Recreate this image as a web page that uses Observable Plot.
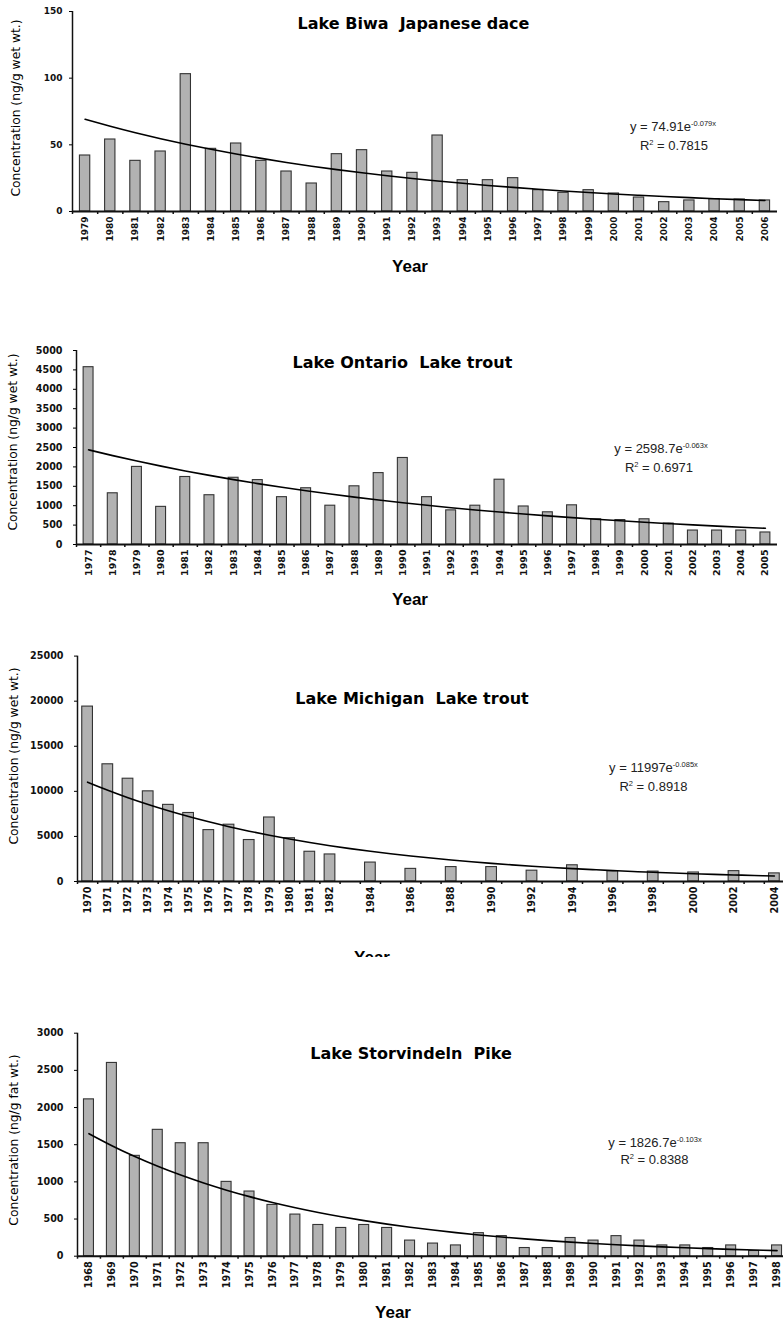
<!DOCTYPE html>
<html>
<head>
<meta charset="utf-8">
<script src="https://cdn.jsdelivr.net/npm/d3@7"></script>
<script src="https://cdn.jsdelivr.net/npm/@observablehq/plot@0.6"></script>
<style>
  body { margin: 0; background: #fff; }
  #page { position: relative; width: 783px; height: 1324px; overflow: hidden; background: #fff; }
  .panel { position: absolute; left: 0; width: 783px; overflow: hidden; }
  .t { position: absolute; transform: translate(-50%, -50%); white-space: pre; line-height: 1; color: #000; }
  .title { font-family: "DejaVu Sans", sans-serif; font-weight: bold; font-size: 16px; }
  .eq { font-family: "Liberation Sans", Arial, sans-serif; font-size: 13px; color: #222; }
  .eq .sup { font-size: 7.5px; position: relative; top: -5px; }
  .ylab { font-family: "DejaVu Sans", sans-serif; font-size: 12.3px; transform: translate(-50%, -50%) rotate(-90deg); }
  .xlab { font-family: "Liberation Sans", Arial, sans-serif; font-weight: bold; font-size: 17px; }
</style>
</head>
<body>
<div id="page"></div>
<script>
// ---------------- DATA ----------------
const biwaYears = [1979,1980,1981,1982,1983,1984,1985,1986,1987,1988,1989,1990,1991,1992,1993,1994,1995,1996,1997,1998,1999,2000,2001,2002,2003,2004,2005,2006];
const biwaValues = [42,54,38,45,103,47,51,38,30,21,43,46,30,29,57,23.5,23.5,25,16,14,16,13.5,10.5,7,8.3,9.3,9,8.3];
const biwaFit = [74.91, -0.079];
const biwaTicks = [0,50,100,150];

const ontarioYears = [1977,1978,1979,1980,1981,1982,1983,1984,1985,1986,1987,1988,1989,1990,1991,1992,1993,1994,1995,1996,1997,1998,1999,2000,2001,2002,2003,2004,2005];
const ontarioValues = [4570,1320,2000,970,1740,1270,1720,1660,1220,1450,1000,1500,1840,2230,1220,880,1000,1670,980,830,1010,650,630,650,540,360,360,360,310];
const ontarioFit = [2598.7, -0.063];
const ontarioTicks = [0,500,1000,1500,2000,2500,3000,3500,4000,4500,5000];

const michiganAxisYears = [1970,1971,1972,1973,1974,1975,1976,1977,1978,1979,1980,1981,1982,1983,1984,1985,1986,1987,1988,1989,1990,1991,1992,1993,1994,1995,1996,1997,1998,1999,2000,2001,2002,2003,2004];
const michiganYears = [1970,1971,1972,1973,1974,1975,1976,1977,1978,1979,1980,1981,1982,1984,1986,1988,1990,1992,1994,1996,1998,2000,2002,2004];
const michiganValues = [19400,13000,11400,10000,8500,7600,5700,6300,4600,7100,4800,3300,3000,2100,1400,1600,1600,1200,1800,1150,1100,1000,1150,900];
const michiganFit = [11997, -0.085];
const michiganTicks = [0,5000,10000,15000,20000,25000];

const storYears = [1968,1969,1970,1971,1972,1973,1974,1975,1976,1977,1978,1979,1980,1981,1982,1983,1984,1985,1986,1987,1988,1989,1990,1991,1992,1993,1994,1995,1996,1997,1998];
const storValues = [2110,2600,1350,1700,1520,1520,1000,870,690,560,420,380,420,380,210,170,145,310,270,110,110,245,210,270,210,145,145,110,145,70,145];
const storFit = [1826.7, -0.103];
const storTicks = [0,500,1000,1500,2000,2500,3000];

// ---------------- DRAW ----------------
const page = document.getElementById("page");
const plain = d => String(d);

function addText(cls, html, x, y, parent) {
  const d = document.createElement("div");
  d.className = "t " + cls;
  d.style.left = x + "px";
  d.style.top = y + "px";
  d.innerHTML = html;
  (parent || page).appendChild(d);
  return d;
}

function panel(cfg) {
  const axisYears = cfg.axisYears || cfg.years;
  const step = (cfg.xRange[1] - cfg.xRange[0]) / axisYears.length;
  const bars = cfg.years.map((y, i) => ({year: y, value: cfg.values[i]}));
  const trend = axisYears.map((y, i) => ({year: y, value: cfg.fit[0] * Math.exp(cfg.fit[1] * (i + 1))}));
  const ymax = cfg.ticks[cfg.ticks.length - 1];
  const chart = Plot.plot({
    width: 783,
    height: cfg.height,
    marginLeft: cfg.xRange[0],
    marginRight: 783 - cfg.xRange[1],
    marginTop: cfg.yRange[1],
    marginBottom: cfg.height - cfg.yRange[0],
    style: {background: "transparent", fontFamily: "DejaVu Sans, sans-serif"},
    x: {type: "band", domain: axisYears, range: cfg.xRange, paddingInner: cfg.pad, paddingOuter: cfg.pad / 2, align: 0.5, round: false},
    y: {domain: [0, ymax], range: cfg.yRange},
    marks: [
      Plot.barY(bars, {x: "year", y: "value", fill: "#b2b2b2", stroke: "#333", strokeWidth: 1.1}),
      Plot.line(trend, {x: "year", y: "value", stroke: "#000", strokeWidth: 1.6, curve: "natural"}),
      Plot.ruleY([0], {stroke: "#111", strokeWidth: 2}),
      Plot.ruleX([axisYears[0]], {y1: 0, y2: ymax, dx: -step / 2, stroke: "#111", strokeWidth: 1.5}),
      Plot.axisY({ticks: cfg.ticks, tickFormat: plain, tickSize: 3, tickPadding: cfg.yPad, label: null, fontWeight: "bold", fontSize: cfg.yFont, fontFamily: "DejaVu Sans, sans-serif", fill: "#111"}),
      Plot.axisX({ticks: cfg.years, tickFormat: plain, tickSize: 0, tickPadding: 5, tickRotate: -90, label: null, fontWeight: "bold", fontSize: cfg.xFont, fontFamily: "DejaVu Sans, sans-serif", fill: "#111"}),
      Plot.axisX({ticks: axisYears, tickSize: 3, tickFormat: () => "", label: null, dx: -step / 2, stroke: "#111", strokeWidth: 1.5})
    ]
  });
  const wrap = document.createElement("div");
  wrap.className = "panel";
  wrap.style.top = cfg.top + "px";
  wrap.style.height = cfg.height + "px";
  wrap.appendChild(chart);
  page.appendChild(wrap);
}

panel({top: 0, height: 250, years: biwaYears, values: biwaValues, fit: biwaFit, ticks: biwaTicks,
  xRange: [72, 777], yRange: [211, 11], pad: 0.59, yPad: 7, yFont: 9, xFont: 9});
panel({top: 330, height: 250, years: ontarioYears, values: ontarioValues, fit: ontarioFit, ticks: ontarioTicks,
  xRange: [76, 777], yRange: [214, 20], pad: 0.59, yPad: 11, yFont: 9.6, xFont: 9.5});
panel({top: 650, height: 280, years: michiganYears, axisYears: michiganAxisYears, values: michiganValues, fit: michiganFit, ticks: michiganTicks,
  xRange: [77, 784], yRange: [231, 5.6], pad: 0.47, yPad: 11, yFont: 9.6, xFont: 9.7});
panel({top: 1000, height: 300, years: storYears, values: storValues, fit: storFit, ticks: storTicks,
  xRange: [77, 788], yRange: [255.7, 32.7], pad: 0.565, yPad: 11, yFont: 9.6, xFont: 9.7});

// titles
addText("title", "Lake Biwa  Japanese dace", 413.5, 24);
addText("title", "Lake Ontario  Lake trout", 402.5, 363);
addText("title", "Lake Michigan  Lake trout", 412, 699);
addText("title", "Lake Storvindeln  Pike", 411, 1054);

// equations
addText("eq", 'y = 74.91e<span class="sup">-0.079x</span>', 673, 126);
addText("eq", 'R<span class="sup">2</span> = 0.7815', 674, 145);
addText("eq", 'y = 2598.7e<span class="sup">-0.063x</span>', 661, 448);
addText("eq", 'R<span class="sup">2</span> = 0.6971', 659, 467);
addText("eq", 'y = 11997e<span class="sup">-0.085x</span>', 653.5, 767);
addText("eq", 'R<span class="sup">2</span> = 0.8918', 653.5, 786);
addText("eq", 'y = 1826.7e<span class="sup">-0.103x</span>', 655, 1142);
addText("eq", 'R<span class="sup">2</span> = 0.8388', 654.5, 1159);

// y-axis titles
addText("ylab", "Concentration (ng/g wet wt.)", 16, 108);
addText("ylab", "Concentration (ng/g wet wt.)", 13, 442);
addText("ylab", "Concentration (ng/g wet wt.)", 14, 756);
addText("ylab", "Concentration (ng/g fat wt.)", 14, 1140);

// x-axis titles
addText("xlab", "Year", 410, 266);
addText("xlab", "Year", 410, 599);
const clip = document.createElement("div");
clip.style.cssText = "position:absolute;left:0;top:900px;width:783px;height:57px;overflow:hidden;";
page.appendChild(clip);
addText("xlab", "Year", 372, 57, clip);
addText("xlab", "Year", 393, 1312);
</script>
</body>
</html>
